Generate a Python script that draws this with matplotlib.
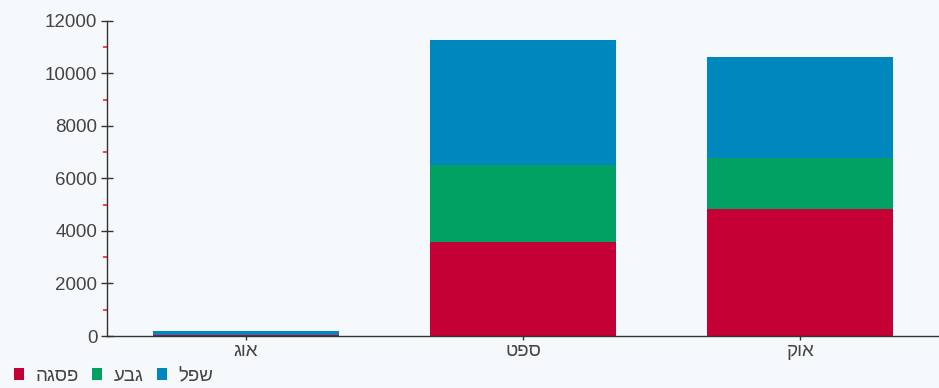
import numpy as np
import matplotlib.pyplot as plt
from matplotlib.ticker import MultipleLocator

plt.rcParams['font.family'] = ['Liberation Sans', 'DejaVu Sans']

months = ['אוג', 'ספט', 'אוק']
series_names = ['פסגה', 'גבע', 'שפל']
peak = [20, 3580, 4840]      # פסגה
mid = [0, 2930, 1940]        # גבע
low = [170, 4750, 3850]      # שפל
colors = ['#c50034', '#00a163', '#0087be']


def rtl(s):
    # matplotlib lays text out left to right, so flip Hebrew strings for display
    return s[::-1]


fig = plt.figure(figsize=(9.39, 3.88), dpi=100, facecolor='#f6f9fb')
ax = fig.add_axes([0.114, 0.134, 0.886, 0.812])
ax.set_facecolor('none')

x = np.arange(len(months))
bottom = np.zeros(len(months))
for vals, name, c in zip([peak, mid, low], series_names, colors):
    ax.bar(x, vals, width=0.67, bottom=bottom, color=c, label=rtl(name),
           edgecolor='none')
    bottom += np.array(vals)

ax.set_xlim(-0.5, 2.5)
ax.set_ylim(0, 12000)
ax.yaxis.set_major_locator(MultipleLocator(2000))
ax.yaxis.set_minor_locator(MultipleLocator(1000))
ax.set_xticks(x)
ax.set_xticklabels([rtl(m) for m in months])

for side in ['top', 'right']:
    ax.spines[side].set_visible(False)
for side in ['left', 'bottom']:
    ax.spines[side].set_color('#333333')
    ax.spines[side].set_linewidth(1.0)

ax.tick_params(axis='y', which='major', direction='inout', length=8,
               width=1, color='#333333', labelsize=13.5, labelcolor='#444444', pad=3)
ax.tick_params(axis='y', which='minor', direction='out', length=3,
               width=1.2, color='#ff2020')
ax.tick_params(axis='x', which='major', direction='out', length=3,
               width=1, color='#333333', labelsize=13.5, labelcolor='#444444', pad=2)

# legend: small squares, tight spacing, bottom left
leg = fig.legend(loc='lower left', bbox_to_anchor=(-0.003, -0.035), ncol=3,
                 frameon=False, fontsize=13.5, handlelength=0.55, handleheight=0.55,
                 handletextpad=0.6, columnspacing=0.7, labelcolor='#444444')

fig.savefig('out.png', dpi=100, facecolor=fig.get_facecolor())
